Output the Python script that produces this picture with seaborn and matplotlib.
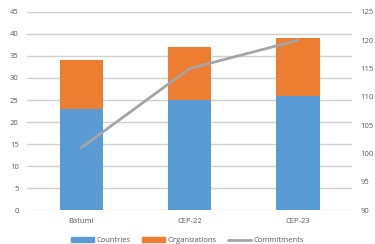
import matplotlib
matplotlib.use("Agg")
import matplotlib.pyplot as plt
import seaborn as sns
import pandas as pd
from matplotlib.patches import Patch
from matplotlib.lines import Line2D

events = ["Batumi", "CEP-22", "CEP-23"]
countries = [23, 25, 26]
organizations = [11, 12, 13]
commitments = [101, 115, 120]

BLUE = "#5B9BD5"
ORANGE = "#ED7D31"
GREY = "#A5A5A5"
TEXT = "#595959"

sns.set_theme(style="white")
plt.rcParams["font.family"] = ["Open Sans", "DejaVu Sans"]

df = pd.DataFrame({"event": events, "countries": countries,
                   "organizations": organizations, "commitments": commitments})
df["total"] = df["countries"] + df["organizations"]

fig, ax = plt.subplots(figsize=(3.75, 2.44), dpi=100)
fig.subplots_adjust(left=0.072, right=0.939, top=0.951, bottom=0.139)

# stacked bars: total first (orange), then countries on top (blue)
sns.barplot(data=df, x="event", y="total", color=ORANGE, width=0.4,
            saturation=1, linewidth=0, ax=ax, zorder=2)
sns.barplot(data=df, x="event", y="countries", color=BLUE, width=0.4,
            saturation=1, linewidth=0, ax=ax, zorder=3)

ax.set_ylim(0, 45)
ax.set_yticks(range(0, 46, 5))
ax.set_xlim(-0.5, 2.5)
ax.yaxis.grid(True, color="#D0D0D0", linewidth=1)
ax.set_axisbelow(True)
for s in ax.spines.values():
    s.set_visible(False)
ax.set_xlabel("")
ax.set_ylabel("")
ax.tick_params(axis="both", labelsize=5.5, colors=TEXT, length=0, pad=6)

ax2 = ax.twinx()
ax2.plot(range(len(events)), df["commitments"], color=GREY, linewidth=2, zorder=4)
ax2.set_ylim(90, 125)
ax2.set_yticks(range(90, 126, 5))
for s in ax2.spines.values():
    s.set_visible(False)
ax2.tick_params(axis="y", labelsize=5.5, colors=TEXT, length=0, pad=6)
ax2.grid(False)

handles = [Patch(color=BLUE, label="Countries"),
           Patch(color=ORANGE, label="Organizations"),
           Line2D([0], [0], color=GREY, linewidth=2, label="Commitments")]
fig.legend(handles=handles, loc="lower center", ncol=3, frameon=False,
           fontsize=5.5, labelcolor=TEXT, bbox_to_anchor=(0.5, -0.03),
           handlelength=3, handleheight=0.6, columnspacing=1.5, handletextpad=0.3)

fig.savefig("out.png", dpi=100)
